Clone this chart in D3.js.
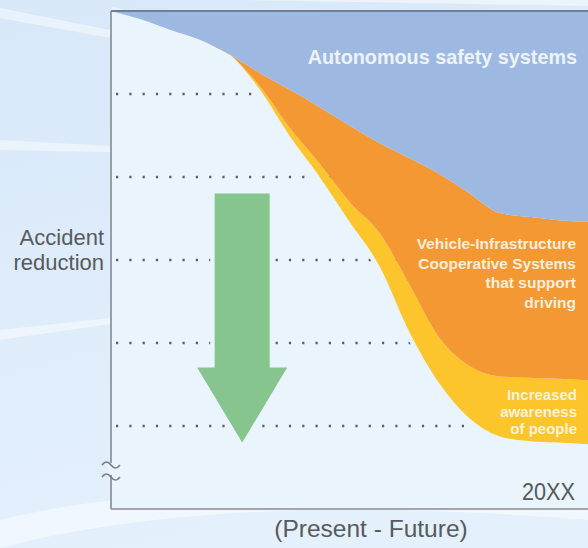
<!DOCTYPE html>
<html>
<head>
<meta charset="utf-8">
<script src="https://cdn.jsdelivr.net/npm/d3@7"></script>
<style>
  html, body { margin: 0; padding: 0; background: #dceafa; }
  svg { display: block; }
</style>
</head>
<body>
<div id="chart"></div>
<script>
// time steps from present (0) to 20XX (16)
const steps = [0, 1, 2, 3, 4, 5, 6, 7, 8, 9, 10, 11, 12, 13, 14, 15, 16];
// accident level left after today's measures (white area)
const baseLevel = [6.00, 5.90, 5.77, 5.65, 5.47, 5.05, 4.49, 4.00, 3.46, 2.93, 2.14, 1.52, 1.10, 0.88, 0.82, 0.80, 0.78];
// band thickness of each measure
const awareness = [0, 0, 0, 0, 0, 0.04, 0.10, 0.16, 0.24, 0.40, 0.57, 0.55, 0.63, 0.72, 0.76, 0.77, 0.77];
const cooperative = [0, 0, 0, 0, 0, 0.16, 0.46, 0.68, 0.92, 1.08, 1.52, 1.97, 2.08, 1.97, 1.94, 1.91, 1.91];
const autonomous = [0, 0.10, 0.23, 0.35, 0.53, 0.75, 0.95, 1.16, 1.38, 1.59, 1.77, 1.96, 2.19, 2.43, 2.48, 2.52, 2.54];
const gridLevels = [1, 2, 3, 4, 5];
const arrowStep = 4.4, arrowFrom = 3.8, arrowTo = 0.8;

const W = 588, H = 548;
const margin = { top: 11, right: 0, bottom: 39, left: 111 };
const font = "'Liberation Sans', Arial, sans-serif";

const svg = d3.select("#chart").append("svg")
    .attr("width", W)
    .attr("height", H);

const defs = svg.append("defs");
const bg = defs.append("linearGradient").attr("id", "bg")
    .attr("x1", 0).attr("y1", 0).attr("x2", 0.3).attr("y2", 1);
bg.append("stop").attr("offset", "0%").attr("stop-color", "#d8e8f9");
bg.append("stop").attr("offset", "100%").attr("stop-color", "#e4f0fc");

svg.append("rect").attr("width", W).attr("height", H).attr("fill", "url(#bg)");

// soft white streaks in the backdrop
const streaks = [
  "M0,8 L110,30 L110,38 L0,18 Z",
  "M0,140 L110,146 L110,152 L0,150 Z",
  "M0,330 L110,318 L110,324 L0,340 Z",
  "M0,520 Q200,470 588,505 L588,520 Q220,490 0,548 Z",
  "M240,0 L588,0 L588,6 Z"
];
svg.selectAll("path.streak").data(streaks).join("path")
    .attr("class", "streak")
    .attr("d", d => d)
    .attr("fill", "#ffffff")
    .attr("opacity", 0.45);

const x = d3.scaleLinear()
    .domain([0, 16])
    .range([margin.left, W - margin.right]);
const y = d3.scaleLinear()
    .domain([0, 6])
    .range([H - margin.bottom, margin.top]);

const plotBg = "#eaf4fd";
svg.append("rect")
    .attr("x", x(0)).attr("y", y(6))
    .attr("width", x(16) - x(0)).attr("height", y(0) - y(6))
    .attr("fill", plotBg);

// dotted guide lines
svg.append("g").selectAll("line").data(gridLevels).join("line")
    .attr("x1", x(0) + 5).attr("x2", x(16))
    .attr("y1", d => y(d)).attr("y2", d => y(d))
    .attr("stroke", "#555e69")
    .attr("stroke-width", 2.4)
    .attr("stroke-dasharray", "2.2 11.1");

const rows = steps.map((s, i) => ({
  step: s,
  base: baseLevel[i],
  awareness: awareness[i],
  cooperative: cooperative[i],
  autonomous: autonomous[i]
}));

const stack = d3.stack().keys(["base", "awareness", "cooperative", "autonomous"]);
const series = stack(rows);

// halo along the lower edge so the dots stop short of the bands
svg.append("path")
    .datum(rows)
    .attr("d", d3.line().x(d => x(d.step)).y(d => y(d.base)).curve(d3.curveMonotoneX))
    .attr("fill", "none")
    .attr("stroke", plotBg)
    .attr("stroke-width", 9);

const colors = { awareness: "#fcc52c", cooperative: "#f49833", autonomous: "#9db9e1" };
const area = d3.area()
    .x(d => x(d.data.step))
    .y0(d => y(d[0]))
    .y1(d => y(d[1]))
    .curve(d3.curveMonotoneX);

svg.append("g").selectAll("path")
    .data(series.filter(s => s.key !== "base"))
    .join("path")
    .attr("d", area)
    .attr("fill", d => colors[d.key]);

// green arrow
const ax = x(arrowStep), shaft = 27.5, head = 45, headLen = 75;
const tipY = y(arrowTo), topY = y(arrowFrom), neckY = tipY - headLen;
const arrowPts = [
  [ax - shaft, topY], [ax + shaft, topY], [ax + shaft, neckY], [ax + head, neckY],
  [ax, tipY], [ax - head, neckY], [ax - shaft, neckY]
];
const arrowPath = "M" + arrowPts.map(p => p.join(",")).join("L") + "Z";
svg.append("path").attr("d", arrowPath)
    .attr("fill", plotBg).attr("stroke", plotBg)
    .attr("stroke-width", 9).attr("stroke-linejoin", "round");
svg.append("path").attr("d", arrowPath).attr("fill", "#86c58d");

// frame
svg.append("line")
    .attr("x1", x(0)).attr("x2", x(16)).attr("y1", y(6)).attr("y2", y(6))
    .attr("stroke", "#6e7e98").attr("stroke-width", 2);
svg.append("line")
    .attr("x1", x(0)).attr("x2", x(0)).attr("y1", y(6)).attr("y2", y(0))
    .attr("stroke", "#858a91").attr("stroke-width", 1.6);
svg.append("line")
    .attr("x1", x(0)).attr("x2", x(16)).attr("y1", y(0)).attr("y2", y(0))
    .attr("stroke", "#a2a6ab").attr("stroke-width", 2);

// axis break mark
const brk = svg.append("g").attr("transform", `translate(${x(0)},${y(0)})`);
brk.append("rect").attr("x", -3).attr("y", -46).attr("width", 6).attr("height", 12).attr("fill", plotBg);
[-46, -34].forEach(dy => {
  brk.append("path")
      .attr("d", `M-9,${dy + 2} q4.5,-6 9,0 t9,0`)
      .attr("fill", "none").attr("stroke", "#7b7f85").attr("stroke-width", 1.6);
});

// labels
const grey = "#585a5e";
svg.append("g")
    .attr("font-family", font)
    .attr("font-size", 22)
    .attr("fill", grey)
    .attr("text-anchor", "end")
    .selectAll("text").data(["Accident", "reduction"]).join("text")
    .attr("x", 104)
    .attr("y", (d, i) => 245 + i * 25)
    .text(d => d);

svg.append("text")
    .attr("x", 371).attr("y", 537)
    .attr("text-anchor", "middle")
    .attr("font-family", font)
    .attr("font-size", 24.5)
    .attr("fill", grey)
    .text("(Present - Future)");

svg.append("text")
    .attr("x", 575).attr("y", 500)
    .attr("text-anchor", "end")
    .attr("font-family", font)
    .attr("font-size", 24)
    .attr("textLength", 53)
    .attr("lengthAdjust", "spacingAndGlyphs")
    .attr("fill", "#55585c")
    .text("20XX");

const bandText = svg.append("g")
    .attr("font-family", font)
    .attr("font-weight", "bold")
    .attr("text-anchor", "end");

bandText.append("text")
    .attr("x", 577).attr("y", 64)
    .attr("font-size", 19.8)
    .attr("fill", "#eef3fb")
    .text("Autonomous safety systems");

bandText.append("g")
    .attr("font-size", 15.5)
    .attr("fill", "#fdeedd")
    .selectAll("text")
    .data(["Vehicle-Infrastructure", "Cooperative Systems", "that support", "driving"])
    .join("text")
    .attr("x", 576)
    .attr("y", (d, i) => 249 + i * 19.7)
    .text(d => d);

bandText.append("g")
    .attr("font-size", 15)
    .attr("fill", "#fff3d6")
    .selectAll("text")
    .data(["Increased", "awareness", "of people"])
    .join("text")
    .attr("x", 577)
    .attr("y", (d, i) => 400 + i * 17)
    .text(d => d);
</script>
</body>
</html>
